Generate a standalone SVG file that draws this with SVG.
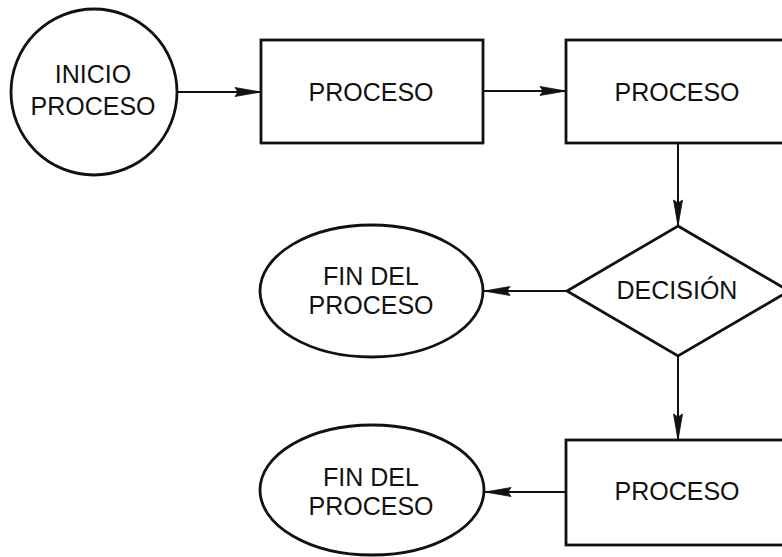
<svg xmlns="http://www.w3.org/2000/svg" width="782" height="557" viewBox="0 0 782 557">
<style>
.shape{fill:#fff;stroke:#111;stroke-width:2.8}
.edge{fill:none;stroke:#111;stroke-width:2;marker-end:url(#arr)}
text{font-family:"Liberation Sans",Arial,sans-serif;font-size:25px;fill:#111;text-anchor:middle}
</style>
<defs>
<marker id="arr" markerUnits="userSpaceOnUse" markerWidth="30" markerHeight="12" viewBox="0 0 30 12" refX="28" refY="6" orient="auto">
<path d="M2,1.5 L28,6 L2,10.5 L5,6 Z" fill="#111" stroke="#111" stroke-width="0.8"/>
</marker>
</defs>
<rect width="782" height="557" fill="#fff"/>
<g id="connectors">
<line class="edge" x1="178" y1="92" x2="261" y2="92"/>
<line class="edge" x1="483" y1="91" x2="566" y2="91"/>
<line class="edge" x1="678" y1="143" x2="678" y2="226"/>
<line class="edge" x1="567" y1="291" x2="484" y2="291"/>
<line class="edge" x1="678" y1="356" x2="678" y2="440"/>
<line class="edge" x1="566" y1="492" x2="485" y2="492"/>
</g>
<g id="inicio">
<circle class="shape" cx="94" cy="92" r="83"/>
<text x="93" y="83">INICIO</text>
<text x="93" y="115">PROCESO</text>
</g>
<g id="proceso1">
<rect class="shape" x="261" y="40" width="222" height="103"/>
<text x="371" y="101">PROCESO</text>
</g>
<g id="proceso2">
<rect class="shape" x="566" y="40" width="222" height="103"/>
<text x="677" y="101">PROCESO</text>
</g>
<g id="decision">
<polygon class="shape" points="678,226 789,291 678,356 567,291"/>
<text x="677" y="299">DECISIÓN</text>
</g>
<g id="fin1">
<ellipse class="shape" cx="371.5" cy="291" rx="111.5" ry="66"/>
<text x="371" y="285">FIN DEL</text>
<text x="371" y="314">PROCESO</text>
</g>
<g id="proceso3">
<rect class="shape" x="566" y="440" width="222" height="105"/>
<text x="677" y="500">PROCESO</text>
</g>
<g id="fin2">
<ellipse class="shape" cx="372" cy="490" rx="112" ry="65"/>
<text x="371" y="486">FIN DEL</text>
<text x="371" y="515">PROCESO</text>
</g>
</svg>
